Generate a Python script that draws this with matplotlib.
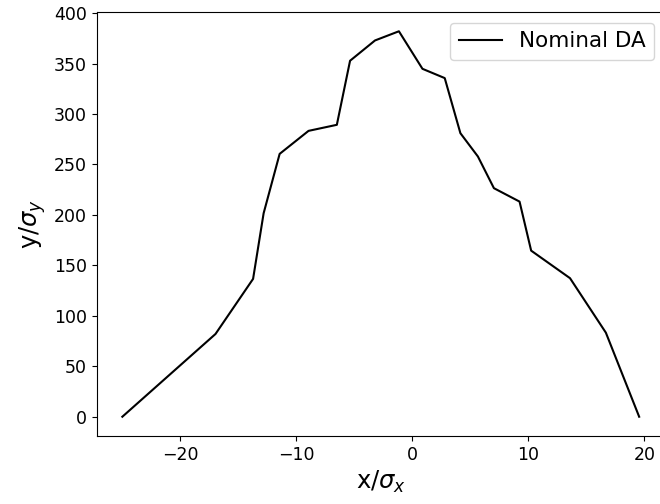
import matplotlib
matplotlib.use("Agg")
import matplotlib.pyplot as plt

x_vals = [-25.0, -16.97, -13.73, -12.82, -11.44, -8.95, -6.51, -5.37, -3.22, -1.16,
          0.87, 2.79, 4.14, 5.65, 7.03, 9.24, 10.24, 13.59, 16.68, 19.55]
y_vals = [0.0, 82.0, 136.6, 201.7, 260.5, 283.3, 289.3, 352.8, 372.9, 382.0,
          344.8, 335.6, 281.0, 257.9, 226.5, 213.2, 164.6, 137.3, 83.3, 0.0]
series_label = "Nominal DA"

fig = plt.figure(figsize=(6.6, 5.04), dpi=100)
left_px, right_px, top_px, bottom_px = 96.5, 665.0, 12.0, 436.0
ax = fig.add_axes([left_px / 660, (504 - bottom_px) / 504,
                   (right_px - left_px) / 660, (bottom_px - top_px) / 504])
ax.plot(x_vals, y_vals, color="black", linewidth=1.5, label=series_label)
ax.set_xlabel(r"x/$\sigma_x$", fontsize=17.5)
ax.set_ylabel(r"y/$\sigma_y$", fontsize=17.5)
ax.tick_params(labelsize=12.5)
ax.set_xticks([-20, -10, 0, 10, 20])
ax.set_yticks([0, 50, 100, 150, 200, 250, 300, 350, 400])
ax.spines["right"].set_visible(False)
ax.legend(loc="upper right", fontsize=15.5)
fig.savefig("out.png", dpi=100)
